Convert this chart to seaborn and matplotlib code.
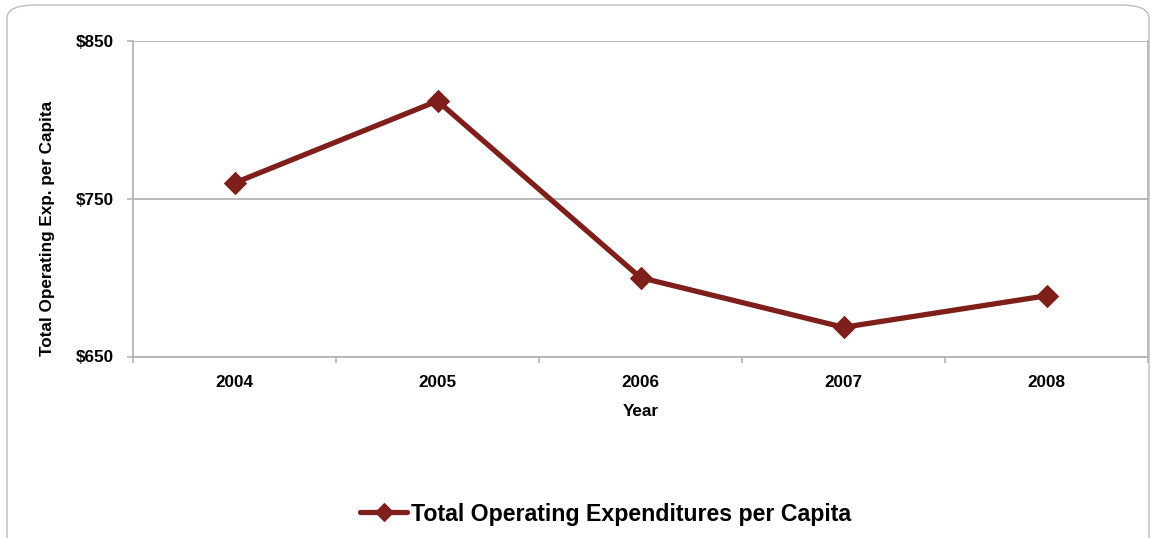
import matplotlib
matplotlib.use("Agg")
import matplotlib.pyplot as plt
from matplotlib.patches import FancyBboxPatch
from matplotlib.ticker import FixedLocator, FuncFormatter
import seaborn as sns
import pandas as pd

years = ["2004", "2005", "2006", "2007", "2008"]
expenditure = [760, 812, 700, 668.5, 688.5]
series_name = "Total Operating Expenditures per Capita"
y_ticks = [650, 750, 850]

sns.set_theme(style="white")
plt.rcParams["font.family"] = ["Liberation Sans", "DejaVu Sans"]
plt.rcParams["font.weight"] = "bold"
plt.rcParams["text.color"] = "black"
plt.rcParams["axes.labelcolor"] = "black"
plt.rcParams["xtick.labelcolor"] = "black"
plt.rcParams["ytick.labelcolor"] = "black"

line_color = "#7F1F1B"
grid_color = "#B4B4B4"

df = pd.DataFrame({"Year": years, "Expenditure": expenditure})

fig = plt.figure(figsize=(11.51, 5.38), dpi=100)
ax = fig.add_axes([133 / 1151, 1 - 356.5 / 538, (1148 - 133) / 1151, (356.5 - 41) / 538])

# rounded outer frame of the chart
frame = FancyBboxPatch((7 / 1151, -0.05), (1149 - 7) / 1151, 1.04 - 5 / 538 + 0.01,
                       boxstyle="round,pad=0,rounding_size=0.025",
                       transform=fig.transFigure, facecolor="none",
                       edgecolor="#BDBDBD", linewidth=1.0, mutation_aspect=538 / 1151 * 2.1)
fig.patches.append(frame)

sns.lineplot(data=df, x="Year", y="Expenditure", ax=ax, color=line_color,
             linewidth=3.8, marker="D", markersize=11, markeredgecolor=line_color,
             label=series_name, sort=False)

ax.set_xlim(-0.5, len(years) - 0.5)
ax.set_ylim(650, 850)
ax.yaxis.set_major_locator(FixedLocator(y_ticks))
ax.yaxis.set_major_formatter(FuncFormatter(lambda v, p: f"${v:,.0f}"))
ax.grid(axis="y", color=grid_color, linewidth=1.3)
ax.grid(axis="x", visible=False)

# x ticks sit between categories
ax.set_xticks(range(len(years)))
ax.set_xticklabels(years)
ax.xaxis.set_minor_locator(FixedLocator([i - 0.5 for i in range(len(years) + 1)]))
ax.tick_params(axis="x", which="major", length=0, pad=13, labelsize=12.3)
ax.tick_params(axis="x", which="minor", length=4, width=1.2, color=grid_color, direction="out")
ax.tick_params(axis="y", which="major", length=4, width=1.2, color=grid_color,
               direction="out", labelsize=12.3, pad=10)
ax.tick_params(left=True, bottom=True)
ax.tick_params(axis="x", which="minor", bottom=True)
for lab in ax.get_xticklabels() + ax.get_yticklabels():
    lab.set_fontweight("bold")

for side in ["left", "bottom", "right"]:
    ax.spines[side].set_visible(True)
    ax.spines[side].set_color(grid_color)
    ax.spines[side].set_linewidth(1.3)
ax.spines["top"].set_visible(False)

ax.set_xlabel("Year", fontsize=12.3, fontweight="bold")
ax.xaxis.set_label_coords(0.5, 1 - (412 - 41) / (356.5 - 41), transform=ax.transAxes)
ax.set_ylabel("Total Operating Exp. per Capita", fontsize=12.3, fontweight="bold")
ax.yaxis.set_label_coords((48 - 133) / (1148 - 133), 1 - (228 - 41) / (356.5 - 41))
ax.yaxis.label.set_verticalalignment("center")
ax.xaxis.label.set_verticalalignment("center")

ax.get_legend().remove()
handles, labels = ax.get_legend_handles_labels()
fig.legend(handles, labels, loc="center", bbox_to_anchor=(606 / 1151, 1 - 514 / 538),
           frameon=False, prop={"weight": "bold", "size": 16.7},
           handlelength=2.0, handletextpad=0.2, markerscale=0.8)

fig.savefig("out.png", dpi=100)
